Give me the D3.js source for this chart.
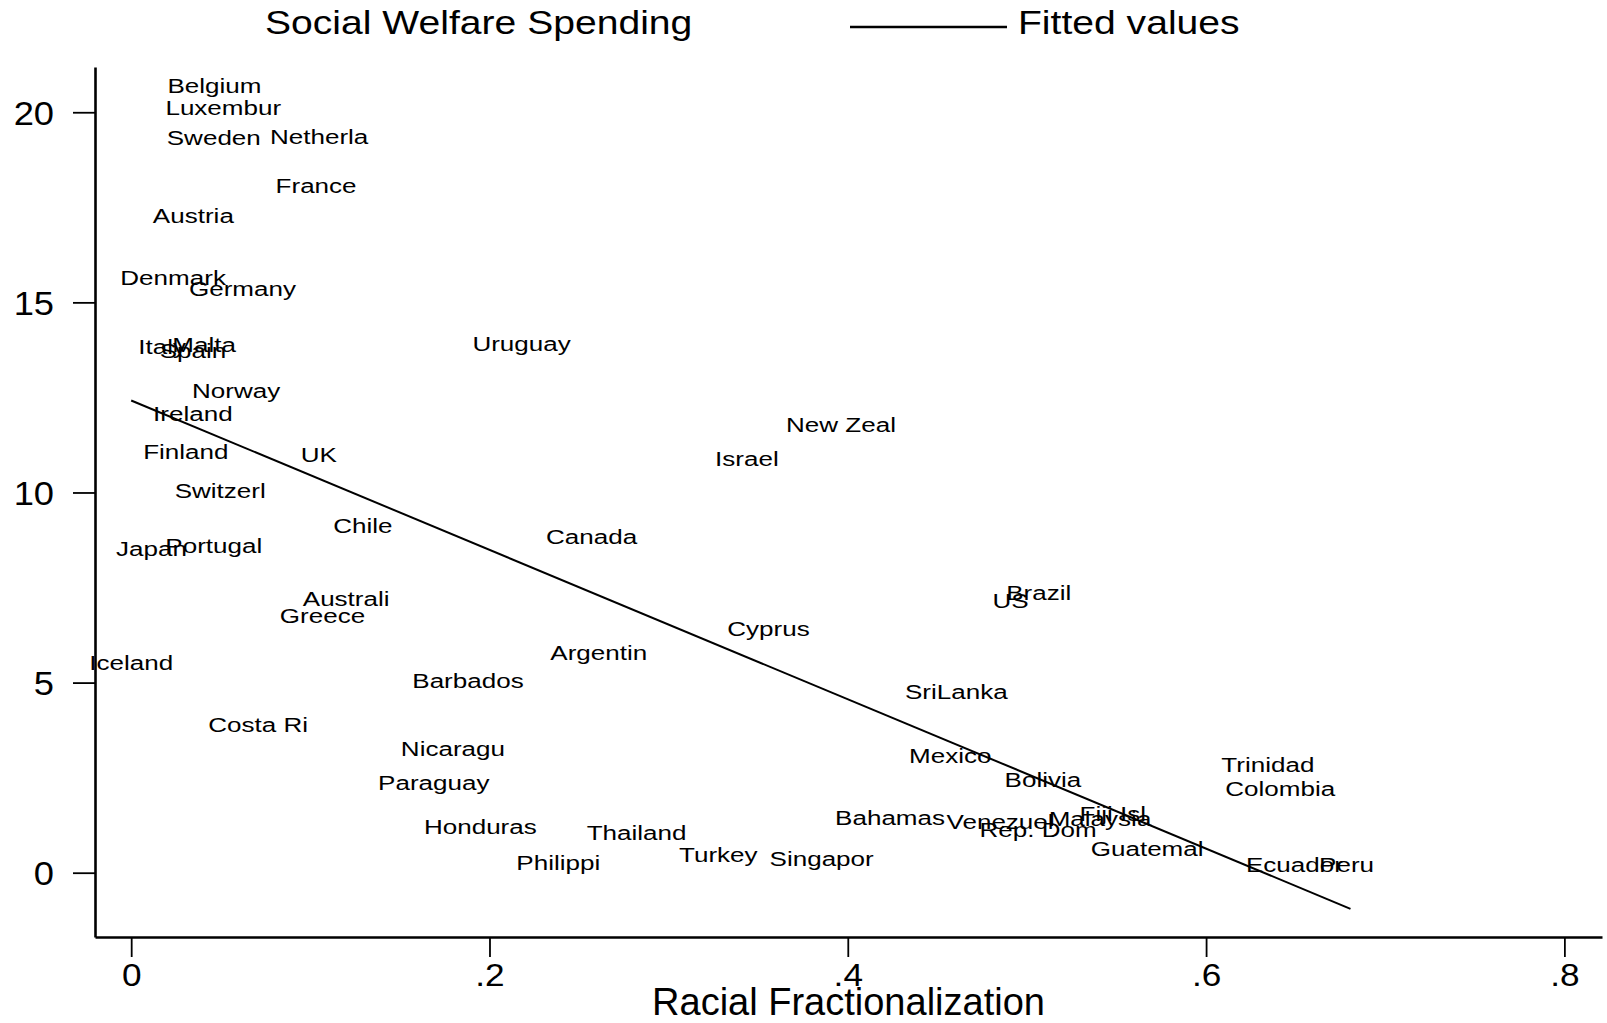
<!DOCTYPE html>
<html>
<head>
<meta charset="utf-8">
<script src="https://cdn.jsdelivr.net/npm/d3@7"></script>
<style>
  html, body { margin: 0; padding: 0; background: #fff; }
  svg { display: block; }
  text { font-family: "Liberation Sans", Arial, Helvetica, sans-serif; fill: #000; }
</style>
</head>
<body>
<svg id="chart" width="1607" height="1023"></svg>
<script>
// ---- data ----
const countries = ["Belgium","Luxembur","Sweden","Netherla","France","Austria","Denmark","Germany",
  "Italy","Malta","Spain","Norway","Ireland","Finland","UK","Switzerl","Chile","Japan","Portugal",
  "Australi","Greece","Iceland","Barbados","Costa Ri","Nicaragu","Paraguay","Honduras","Philippi",
  "Thailand","Turkey","Singapor","Uruguay","New Zeal","Israel","Canada","Cyprus","Argentin",
  "Brazil","US","SriLanka","Mexico","Bolivia","Bahamas","Venezuel","Rep. Dom","Malaysia","Fiji Isl",
  "Guatemal","Trinidad","Colombia","Ecuador","Peru"];
const racialFrac = [0.0465,0.0514,0.0461,0.1049,0.1032,0.0347,0.0234,0.0621,
  0.0173,0.0407,0.0345,0.0586,0.0344,0.0305,0.1047,0.0497,0.1293,0.0113,0.0461,
  0.1200,0.1068,0.0000,0.1880,0.0709,0.1796,0.1689,0.1949,0.2384,
  0.2821,0.3277,0.3854,0.2179,0.3962,0.3437,0.2570,0.3557,0.2610,
  0.5066,0.4909,0.4606,0.4572,0.5089,0.4236,0.4850,0.5062,0.5408,0.5479,
  0.5671,0.6345,0.6414,0.6493,0.6784];
const welfare = [20.67,20.10,19.31,19.34,18.04,17.25,15.63,15.35,
  13.81,13.86,13.71,12.65,12.06,11.05,10.98,10.03,9.10,8.51,8.57,
  7.19,6.73,5.50,5.04,3.88,3.25,2.35,1.20,0.25,
  1.04,0.44,0.36,13.90,11.75,10.88,8.82,6.40,5.77,
  7.35,7.13,4.74,3.06,2.42,1.43,1.32,1.10,1.41,1.54,
  0.62,2.83,2.20,0.18,0.18];
const fitX = [0, 0.6806];
const fitY = [12.42, -0.95];
const xTicks = [0, 0.2, 0.4, 0.6, 0.8];
const xTickLabels = ["0", ".2", ".4", ".6", ".8"];
const yTicks = [0, 5, 10, 15, 20];
const yTickLabels = ["0", "5", "10", "15", "20"];
const legendLabels = ["Social Welfare Spending", "Fitted values"];
const xTitle = "Racial Fractionalization";

// ---- scales ----
const svg = d3.select("#chart");
svg.append("rect").attr("width", 1607).attr("height", 1023).attr("fill", "#fff");

const x = d3.scaleLinear().domain([-0.0202, 0.8210]).range([95, 1602]);
const y = d3.scaleLinear().domain([-1.691, 21.19]).range([937, 67]);

// ---- axes ----
const xAxis = d3.axisBottom(x).tickValues(xTicks).tickFormat((d, i) => xTickLabels[i])
  .tickSize(20).tickSizeOuter(0);
const gx = svg.append("g").attr("transform", "translate(0,937)").call(xAxis);
gx.attr("font-family", null).attr("font-size", null);
gx.select(".domain").attr("stroke", "#000").attr("stroke-width", 2.6);
gx.selectAll(".tick line").attr("stroke", "#000").attr("stroke-width", 1.8);
gx.selectAll(".tick text")
  .attr("x", 0).attr("y", 0).attr("dy", null)
  .attr("transform", "translate(0,49) scale(1.1,1)")
  .attr("text-anchor", "middle")
  .style("font-size", "32px");

const yAxis = d3.axisLeft(y).tickValues(yTicks).tickFormat((d, i) => yTickLabels[i])
  .tickSize(22).tickSizeOuter(0);
const gy = svg.append("g").attr("transform", "translate(95,0)").call(yAxis);
gy.attr("font-family", null).attr("font-size", null);
gy.select(".domain").attr("stroke", "#000").attr("stroke-width", 2.6);
gy.selectAll(".tick line").attr("stroke", "#000").attr("stroke-width", 1.8);
gy.selectAll(".tick text")
  .attr("x", 0).attr("y", 0).attr("dy", null)
  .attr("transform", "translate(-41,12) scale(1.1,1)")
  .attr("text-anchor", "end")
  .style("font-size", "33px");

// axis title
svg.append("text")
  .attr("x", 848.5).attr("y", 1015)
  .attr("text-anchor", "middle")
  .style("font-size", "38px")
  .text(xTitle);

// ---- fitted line ----
const fitData = fitX.map((v, i) => [v, fitY[i]]);
svg.append("path")
  .datum(fitData)
  .attr("fill", "none")
  .attr("stroke", "#000")
  .attr("stroke-width", 2)
  .attr("d", d3.line().x(d => x(d[0])).y(d => y(d[1])));

// ---- country labels (marker labels centred on the point) ----
const pts = countries.map((c, i) => ({ name: c, x: racialFrac[i], y: welfare[i] }));
svg.append("g").selectAll("text").data(pts).join("text")
  .attr("transform", d => `translate(${x(d.x)},${y(d.y) + 6.5}) scale(1.24,1)`)
  .attr("text-anchor", "middle")
  .style("font-size", "21px")
  .text(d => d.name);

// ---- legend ----
svg.append("text")
  .attr("transform", "translate(265,34) scale(1.15,1)")
  .style("font-size", "34px")
  .text(legendLabels[0]);
svg.append("line")
  .attr("x1", 850).attr("x2", 1007).attr("y1", 27).attr("y2", 27)
  .attr("stroke", "#000").attr("stroke-width", 2.5);
svg.append("text")
  .attr("transform", "translate(1018,34) scale(1.15,1)")
  .style("font-size", "34px")
  .text(legendLabels[1]);
</script>
</body>
</html>
